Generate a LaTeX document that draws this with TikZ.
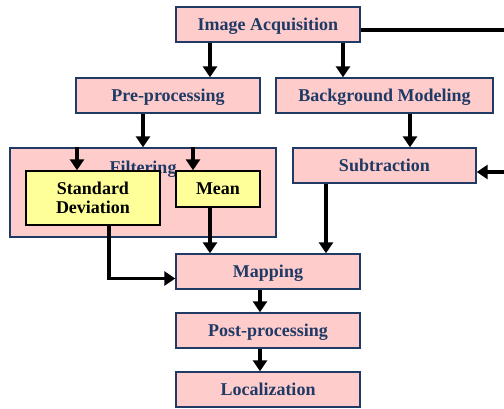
\documentclass[tikz,border=0pt]{standalone}
\usepackage{fontspec}
\setmainfont{Liberation Serif}
\usepackage{tikz}
\usetikzlibrary{arrows.meta,calc}

\definecolor{boxpink}{RGB}{255,204,204}
\definecolor{boxblue}{RGB}{31,58,100}
\definecolor{boxyellow}{RGB}{255,255,153}

\tikzset{
	stage/.style={fill=boxpink, draw=boxblue, line width=1.4pt, minimum height=35pt, text=boxblue, text height=13pt, text depth=2pt, font=\fontsize{18}{19}\selectfont\bfseries, inner sep=0pt},
	filt/.style={fill=boxyellow, draw=black, line width=1.4pt, text=black, align=center, font=\fontsize{18}{19}\selectfont\bfseries, inner sep=0pt},
	flow/.style={-{Triangle[length=11pt,width=14pt]}, line width=3.4pt},
	wire/.style={line width=3.4pt}
}

\begin{document}
\begin{tikzpicture}[x=1pt,y=-1pt]
		\useasboundingbox (0,0) rectangle (504,408);

		\node[stage, minimum width=184pt] (acq) at (268,24.5) {Image Acquisition};
		\node[stage, minimum width=184pt] (pre) at (168,95.5) {Pre-processing};
		\node[stage, minimum width=217pt] (bgm) at (384.5,95.5) {Background Modeling};

		% filtering block with the two filters inside
		\node[fill=boxpink, draw=boxblue, line width=1.4pt, minimum width=266pt, minimum height=89pt, inner sep=0pt] (filt) at (143,192.5) {};
		\node[text=boxblue, text height=13pt, text depth=2pt, font=\fontsize{18}{19}\selectfont\bfseries] (filtlbl) at (143,168) {Filtering};
		\node[filt, minimum width=134pt, minimum height=54pt] (sd) at (93,198) {Standard\\Deviation};
		\node[filt, minimum width=84pt, minimum height=36pt, text height=13pt, text depth=2pt] (mean) at (218,189) {Mean};

		\node[stage, minimum width=183pt] (sub) at (384.5,165.5) {Subtraction};
		\node[stage, minimum width=184pt] (map) at (268,271.5) {Mapping};
		\node[stage, minimum width=184pt] (post) at (268,330.5) {Post-processing};
		\node[stage, minimum width=184pt] (loc) at (268,389.5) {Localization};

		\coordinate (rout) at (504,30);
		\coordinate (rin) at (504,172);

		\draw[flow] ([xshift=-58pt]acq.south) -- ([xshift=-58pt]acq.south |- pre.north);
		\draw[flow] ([xshift=75pt]acq.south) -- ([xshift=75pt]acq.south |- bgm.north);
		\draw[wire] (rout -| acq.east) -- (rout);

		\draw[flow] ([xshift=-25pt]pre.south) -- ([xshift=-25pt]pre.south |- filt.north);
		\draw[flow] ([xshift=25.5pt]bgm.south) -- ([xshift=25.5pt]bgm.south |- sub.north);

		\draw[flow] ([xshift=-16pt]sd.north |- filt.north) -- ([xshift=-16pt]sd.north);
		\draw[flow] ([xshift=-25pt]mean.north |- filt.north) -- ([xshift=-25pt]mean.north);

		\draw[flow] (rin) -- (rin -| sub.east);

		\draw[flow] ([xshift=-8pt]mean.south) -- ([xshift=-8pt]mean.south |- map.north);
		\draw[flow] ([xshift=-58.5pt]sub.south) -- ([xshift=-58.5pt]sub.south |- map.north);
		\draw[flow] ([xshift=16pt]sd.south) |- ([yshift=-7pt]map.west);

		\draw[flow] ([xshift=-8pt]map.south) -- ([xshift=-8pt]post.north);
		\draw[flow] ([xshift=-8pt]post.south) -- ([xshift=-8pt]loc.north);
	\end{tikzpicture}
\end{document}
